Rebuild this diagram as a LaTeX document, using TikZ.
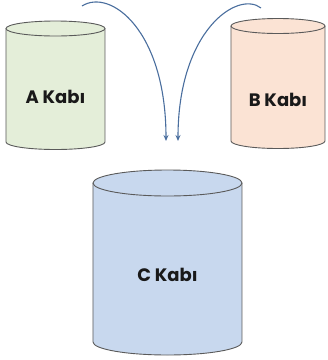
\documentclass[tikz,border=0pt]{standalone}
\usepackage{fontspec}
\setmainfont{Poppins}
\usetikzlibrary{arrows.meta}
\definecolor{fillA}{HTML}{E4EED9}
\definecolor{fillB}{HTML}{FBE3D4}
\definecolor{fillC}{HTML}{C8D8EE}
\definecolor{edgecol}{HTML}{5A5A5A}
\definecolor{arrowcol}{HTML}{4A6E9E}
\newcommand\mycyl[6]{% cx, topy, boty, rx, ry, color
  \fill[#6] (#1-#4,#2) -- (#1-#4,#3) arc[start angle=180,end angle=0,x radius=#4,y radius=#5] -- (#1+#4,#2) -- cycle;
  \fill[#6] (#1,#2) ellipse[x radius=#4,y radius=#5];
  \draw[cyledge] (#1-#4,#2) -- (#1-#4,#3) arc[start angle=180,end angle=0,x radius=#4,y radius=#5] -- (#1+#4,#2);
  \draw[cyledge] (#1,#2) ellipse[x radius=#4,y radius=#5];
}
\begin{document}
\begin{tikzpicture}[x=1pt,y=-1pt,
  cyledge/.style={draw=edgecol,line width=0.9pt},
  label/.style={font=\bfseries\fontsize{18}{20}\selectfont,text=black!90},
  flow/.style={draw=arrowcol,line width=1.1pt,-{Stealth[length=6pt,width=5pt]}}]
\useasboundingbox (0,0) rectangle (328,360);
\mycyl{55.5}{28.5}{142}{49.5}{7.5}{fillA}
\mycyl{278}{26}{141}{47}{7.5}{fillB}
\mycyl{167.5}{183}{342}{74.5}{13}{fillC}
\node[label] (A) at (55.5,97) {A Kabı};
\node[label] (B) at (278,100) {B Kabı};
\node[label] (C) at (167.5,275) {C Kabı};
\coordinate (a0) at (82,6);
\coordinate (a1) at (166,141);
\coordinate (b0) at (261,8);
\coordinate (b1) at (178,141);
\draw[flow] (a0) .. controls (110,-12) and (166,30) .. (a1);
\draw[flow] (b0) .. controls (238,-10) and (178,30) .. (b1);
\end{tikzpicture}
\end{document}
